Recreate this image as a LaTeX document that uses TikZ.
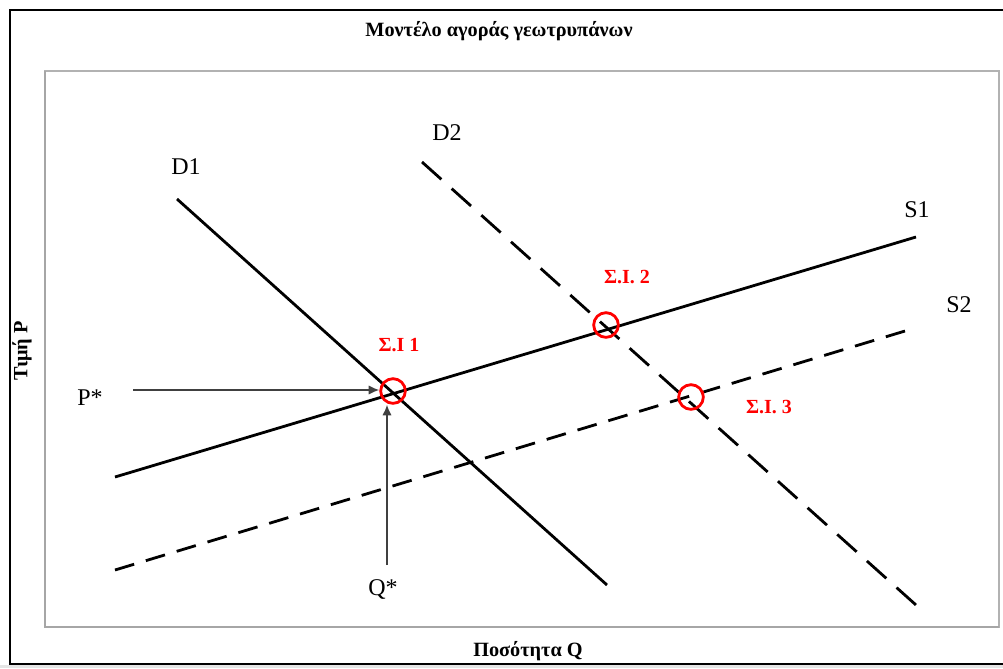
\documentclass[tikz,border=0pt]{standalone}
\usepackage{fontspec}
\setmainfont{Liberation Serif}
\usetikzlibrary{arrows.meta}

\begin{document}
\begin{tikzpicture}[x=0.75pt,y=-0.75pt,>={Latex[length=8pt,width=7pt]},
  curve/.style={line width=2.1pt},
  dashcurve/.style={curve,dash pattern=on 19pt off 10.5pt},
  lbl/.style={font=\fontsize{18}{20}\selectfont},
  axislbl/.style={font=\bfseries\fontsize{15.2}{17}\selectfont},
  eqring/.style={circle,draw=red,line width=2.1pt,minimum size=18.5pt,inner sep=0pt},
  eqlbl/.style={text=red,font=\bfseries\fontsize{15}{17}\selectfont},
  pointer/.style={->,black!75,line width=1.1pt}]
\useasboundingbox (0,0) rectangle (1003,668);
% frames
\fill[white] (0,0) rectangle (1003,668);
\fill[gray!20] (0,665) rectangle (1003,668);
\draw[line width=1.5pt] (1003,10) -- (10,10) -- (10,664) -- (1003,664);
\draw[gray!60,line width=0.8pt] (45,71) rectangle (999,627);
\draw[gray!70,line width=1.5pt] (45,71) -- (45,627) -- (999,627);
% titles
\node[axislbl] (title) at (499,31) {Μοντέλο αγοράς γεωτρυπάνων};
\node[axislbl,rotate=90] (ylbl) at (22,351) {Τιμή P};
\node[axislbl] (xlbl) at (528,651) {Ποσότητα Q};
% demand and supply
\coordinate (d1a) at (177,199); \coordinate (d1b) at (607,585);
\coordinate (d2a) at (422,162); \coordinate (d2b) at (916,605);
\coordinate (s1a) at (115,477); \coordinate (s1b) at (916,237);
\coordinate (s2a) at (115,570); \coordinate (s2b) at (905,331);
\draw[curve] (d1a) -- (d1b);
\draw[curve] (s1a) -- (s1b);
\draw[dashcurve,dash pattern=on 19.5pt off 10.38pt] (d2a) -- (d2b);
\draw[dashcurve,dash pattern=on 15pt off 9.16pt] (s2a) -- (s2b);
\node[lbl] (d1) at (186,167) {D1};
\node[lbl] (d2) at (447,133) {D2};
\node[lbl] (s1) at (917,210) {S1};
\node[lbl] (s2) at (959,305) {S2};
% equilibria
\node[eqring] (si1) at (393,391) {};
\node[eqring] (si2) at (606,325) {};
\node[eqring] (si3) at (691,397) {};
\node[eqlbl] (si1lbl) at (399,345) {Σ.Ι 1};
\node[eqlbl] (si2lbl) at (627,277) {Σ.Ι. 2};
\node[eqlbl] (si3lbl) at (769,407) {Σ.Ι. 3};
% price and quantity
\node[lbl] (pstar) at (90,398) {P*};
\node[lbl] (qstar) at (383,589) {Q*};
\coordinate (pfrom) at (133,390);
\coordinate (qfrom) at (387,565);
\draw[pointer] (pfrom) -- (pfrom -| si1.west);
\draw[pointer] (qfrom) -- (qfrom |- si1.south);
\end{tikzpicture}
\end{document}
